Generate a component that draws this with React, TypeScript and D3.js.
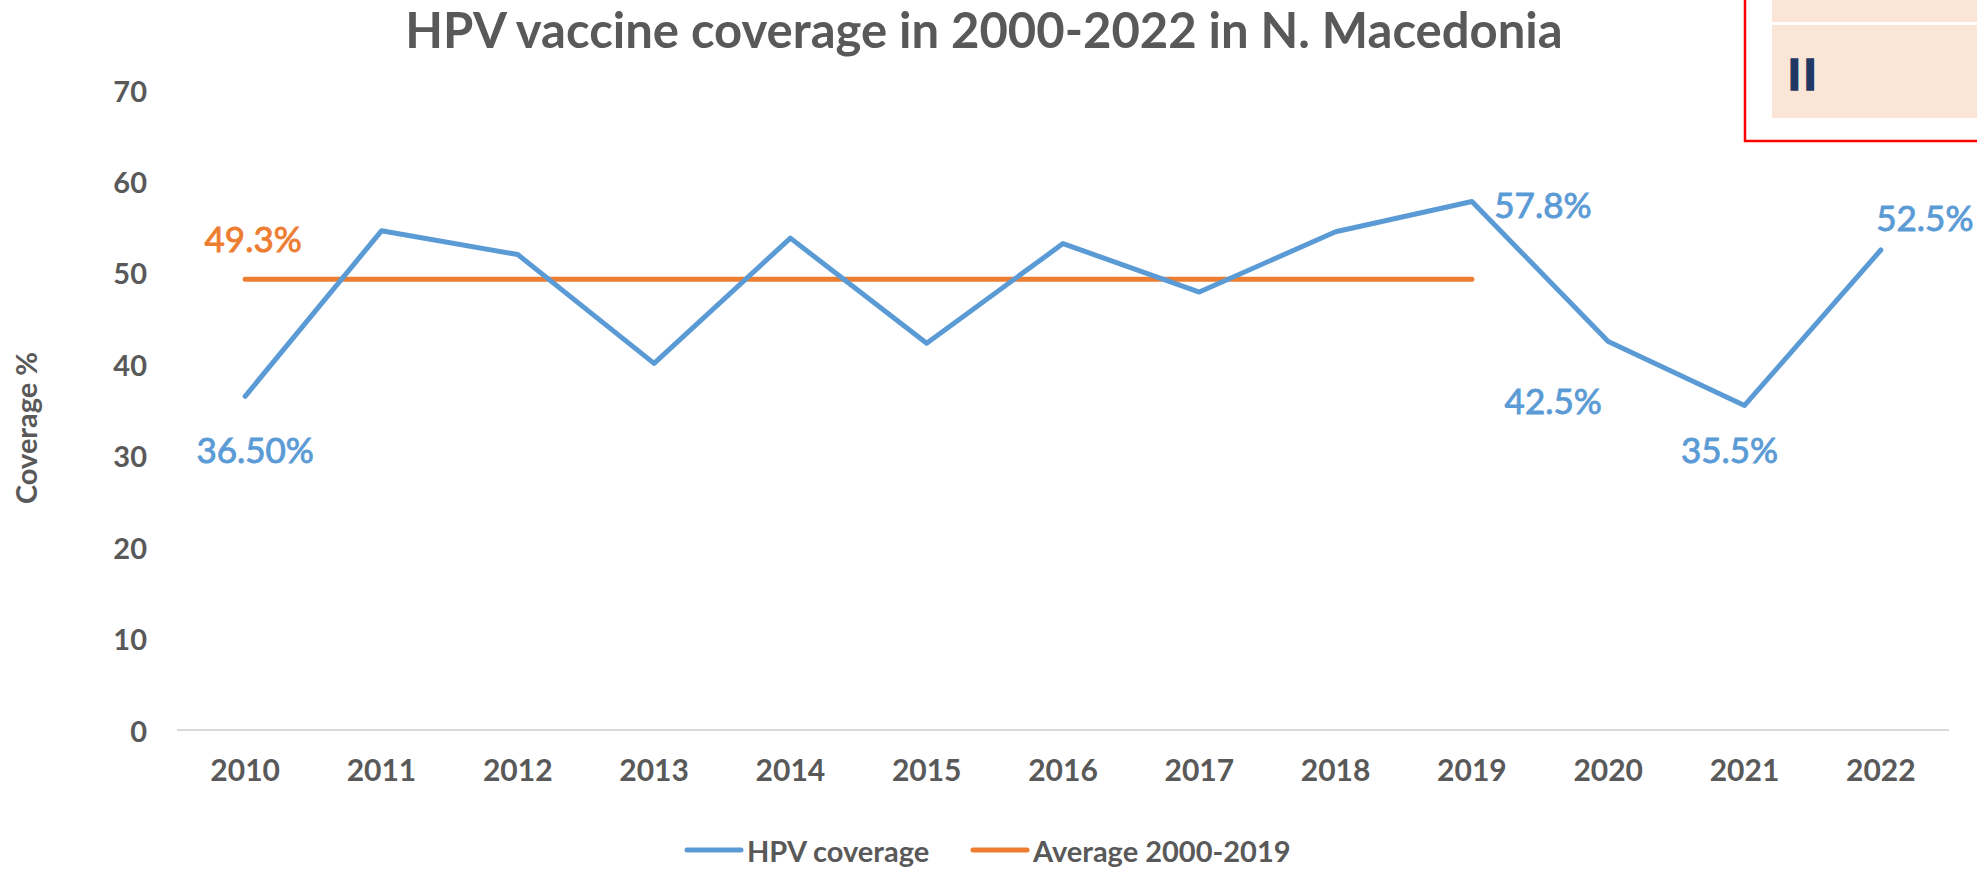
import * as d3 from "d3";

const years = ["2010", "2011", "2012", "2013", "2014", "2015", "2016", "2017", "2018", "2019", "2020", "2021", "2022"];
const coverage = [36.5, 54.6, 52.0, 40.1, 53.8, 42.3, 53.2, 47.9, 54.5, 57.8, 42.5, 35.5, 52.5];
const averageYears = ["2010", "2011", "2012", "2013", "2014", "2015", "2016", "2017", "2018", "2019"];
const averageValue = 49.3;
const yTicks = [0, 10, 20, 30, 40, 50, 60, 70];

// labels shown on some of the points: [year, text, dx, dy]
const pointLabels: [string, string, number, number][] = [
  ["2010", "36.50%", 10, 53],
  ["2019", "57.8%", 71, 2],
  ["2020", "42.5%", -55, 59],
  ["2021", "35.5%", -15, 44],
  ["2022", "52.5%", 44, -33],
];

const W = 1977;
const H = 869;
const BLUE = "#5B9BD5";
const ORANGE = "#ED7D31";
const TEXT = "#595959";
const FONT = "Lato, 'Open Sans', sans-serif";

export default function App() {
  const x = d3.scalePoint<string>().domain(years).range([177, 1949]).padding(0.5);
  const y = d3.scaleLinear().domain([0, 70]).range([730, 90]);

  const line = d3
    .line<number>()
    .x((_, i) => x(years[i]) as number)
    .y((d) => y(d));

  const avgLine = d3
    .line<string>()
    .x((d) => x(d) as number)
    .y(() => y(averageValue));

  return (
    <svg
      width={W}
      height={H}
      viewBox={`0 0 ${W} ${H}`}
      style={{ position: "absolute", left: 0, top: 0, background: "#fff" }}
      fontFamily={FONT}
    >
      {/* title */}
      <text x={984} y={48} textAnchor="middle" fontSize={49} fontWeight={700} fill={TEXT}>
        HPV vaccine coverage in 2000-2022 in N. Macedonia
      </text>

      {/* y axis title */}
      <text
        transform="translate(25,428) rotate(-90)"
        textAnchor="middle"
        dominantBaseline="central"
        fontSize={29}
        fontWeight={700}
        fill={TEXT}
      >
        Coverage %
      </text>

      {/* y tick labels */}
      {yTicks.map((t) => (
        <text
          key={t}
          x={147}
          y={y(t)}
          textAnchor="end"
          dominantBaseline="central"
          fontSize={29}
          fontWeight={700}
          fill={TEXT}
        >
          {t}
        </text>
      ))}

      {/* baseline */}
      <line x1={177} x2={1949} y1={y(0)} y2={y(0)} stroke="#D9D9D9" strokeWidth={2} />

      {/* x tick labels */}
      {years.map((yr) => (
        <text
          key={yr}
          x={x(yr)}
          y={769}
          textAnchor="middle"
          dominantBaseline="central"
          fontSize={30}
          fontWeight={700}
          fill={TEXT}
        >
          {yr}
        </text>
      ))}

      {/* average line */}
      <path
        d={avgLine(averageYears) || ""}
        fill="none"
        stroke={ORANGE}
        strokeWidth={5}
        strokeLinecap="round"
      />

      {/* coverage line */}
      <path
        d={line(coverage) || ""}
        fill="none"
        stroke={BLUE}
        strokeWidth={5}
        strokeLinecap="round"
        strokeLinejoin="round"
      />

      {/* point labels */}
      {pointLabels.map(([yr, txt, dx, dy]) => {
        const i = years.indexOf(yr);
        return (
          <text
            key={yr}
            x={(x(yr) as number) + dx}
            y={y(coverage[i]) + dy}
            textAnchor="middle"
            dominantBaseline="central"
            fontSize={35}
            fill={BLUE}
            stroke={BLUE}
            strokeWidth={0.9}
          >
            {txt}
          </text>
        );
      })}
      <text
        x={(x(averageYears[0]) as number) + 8}
        y={y(averageValue) - 41}
        textAnchor="middle"
        dominantBaseline="central"
        fontSize={35}
        fill={ORANGE}
        stroke={ORANGE}
        strokeWidth={0.9}
      >
        {averageValue.toFixed(1)}%
      </text>

      {/* legend */}
      <line x1={687} x2={741} y1={850} y2={850} stroke={BLUE} strokeWidth={5} strokeLinecap="round" />
      <text x={747} y={850} dominantBaseline="central" fontSize={29} fontWeight={700} fill={TEXT}>
        HPV coverage
      </text>
      <line x1={973} x2={1027} y1={850} y2={850} stroke={ORANGE} strokeWidth={5} strokeLinecap="round" />
      <text x={1033} y={850} dominantBaseline="central" fontSize={29} fontWeight={700} fill={TEXT}>
        Average 2000-2019
      </text>

      {/* pasted box in the top-right corner */}
      <rect x={1745} y={-5} width={260} height={146} fill="#fff" stroke="#FF0000" strokeWidth={2.5} />
      <rect x={1772} y={-5} width={230} height={27} fill="#FBE5D6" />
      <rect x={1772} y={25} width={230} height={93} fill="#FBE5D6" />
      <text
        x={1788}
        y={74}
        dominantBaseline="central"
        fontSize={42}
        fontWeight={900}
        fill="#1F3864"
        stroke="#1F3864"
        strokeWidth={1.5}
        letterSpacing={3}
      >
        II
      </text>
    </svg>
  );
}
